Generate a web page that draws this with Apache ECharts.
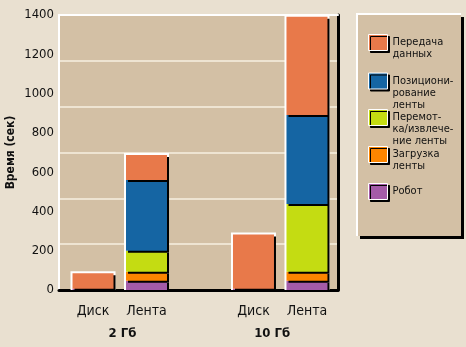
<!DOCTYPE html>
<html><head><meta charset="utf-8">
<script src="https://cdn.jsdelivr.net/npm/echarts@6/dist/echarts.min.js"></script>
<style>html,body{margin:0;padding:0;background:#e9e0d0;}#c{width:466px;height:347px;}</style>
</head><body><div id="c"></div>
<script>
// ---- data ----
const categories = ['Диск', 'Лента', 'Диск', 'Лента'];
const barPos = [0, 1, 3, 4];
const groups = ['2 Гб', '10 Гб'];
const groupPos = [0.55, 3.35];
const yTicks = [0, 200, 400, 600, 800, 1000, 1200, 1400];
const seriesNames = ['Робот', 'Загрузка ленты', 'Перемотка/извлечение ленты', 'Позиционирование ленты', 'Передача данных'];
const legendLabels = ['Робот', 'Загрузка\nленты', 'Перемот-\nка/извлече-\nние ленты', 'Позициони-\nрование\nленты', 'Передача\nданных'];
const robot = [6, 47, 6, 47];
const loading = [null, 46, null, 46];
const rewind = [null, 107, null, 345];
const positioning = [null, 360, null, 453];
const transfer = [79, 127, 277, 500];

const values = [robot, loading, rewind, positioning, transfer];
const colors = ['#a45ba8', '#fc8500', '#c4dc12', '#1565a3', '#e8794a'];
const FONT = "'Liberation Sans Narrow','Arial Narrow','DejaVu Sans Condensed',sans-serif";
const TAN = '#d3c0a5';
const XMIN = -0.636, XMAX = 4.58;

const totals = barPos.map((p, i) => values.reduce((s, arr) => s + (arr[i] || 0), 0));
const framePad = 10;

// data stored as [value, position] so that stacking happens on the value dimension
const series = [{
  name: 'frame', type: 'bar', xAxisIndex: 1, yAxisIndex: 0, barWidth: 45,
  encode: { x: 1, y: 0 },
  data: barPos.map((p, i) => [totals[i] + framePad, p]),
  itemStyle: { color: '#ffffff' }, silent: true, z: 2
}];
values.forEach((arr, k) => {
  series.push({
    name: seriesNames[k], type: 'bar', stack: 'total', xAxisIndex: 0, yAxisIndex: 0, barWidth: 41,
    encode: { x: 1, y: 0 },
    data: barPos.map((p, i) => [arr[i] == null ? null : arr[i], p]),
    itemStyle: { color: colors[k], shadowColor: '#000', shadowOffsetX: 2, shadowOffsetY: 2, shadowBlur: 0 },
    z: 3
  });
});

// legends: one per item (top to bottom order)
const legendOrder = [4, 3, 2, 1, 0];
const swatchCenters = [41.5, 80, 116.5, 153.5, 190];
const LH = 12;
const legends = legendOrder.map((k, j) => {
  const lines = legendLabels[k].split('\n');
  const n = lines.length;
  const txt = new Array(n - 1).fill(' ').concat(lines).join('\n');
  const h = Math.max(16, (2 * n - 1) * LH);
  return {
    data: [seriesNames[k]], left: 368, top: swatchCenters[j] - h / 2 + 1, orient: 'vertical',
    itemWidth: 19, itemHeight: 16, icon: 'rect', selectedMode: false, padding: 0, z: 10,
    itemStyle: { borderColor: '#fff', borderWidth: 1, shadowColor: '#000', shadowOffsetX: 2, shadowOffsetY: 2, shadowBlur: 0 },
    formatter: () => txt,
    textStyle: { fontFamily: FONT, fontSize: 11, lineHeight: LH, color: '#111' }
  };
});

const chart = echarts.init(document.getElementById('c'), null, { renderer: 'canvas' });
chart.setOption({
  animation: false,
  backgroundColor: '#e9e0d0',
  textStyle: { fontFamily: FONT },
  grid: { left: 59, right: 128, top: 15, bottom: 57, show: true, backgroundColor: TAN, borderWidth: 0,
    containLabel: false, outerBoundsMode: 'none' },
  graphic: [
    { type: 'rect', shape: { x: 357, y: 14, width: 104, height: 222 }, z: -1,
      style: { fill: TAN, shadowColor: '#000', shadowOffsetX: 3, shadowOffsetY: 3, shadowBlur: 0 } },
    { type: 'polyline', shape: { points: [[357, 236], [357, 14], [461, 14]] }, z: 0,
      style: { stroke: '#fff', lineWidth: 2, fill: null } }
  ],
  legend: legends,
  xAxis: [
    { type: 'value', min: XMIN, max: XMAX, position: 'bottom',
      axisLine: { show: true, onZero: false, lineStyle: { color: '#000', width: 3 } },
      axisTick: { show: false }, splitLine: { show: false },
      axisLabel: { customValues: barPos, formatter: v => categories[barPos.indexOf(v)] || '', margin: 14,
        fontFamily: FONT, fontSize: 14, color: '#111' } },
    { type: 'value', min: XMIN, max: XMAX, position: 'top',
      axisLine: { show: true, onZero: false, lineStyle: { color: '#fff', width: 2 } },
      axisTick: { show: false }, splitLine: { show: false }, axisLabel: { show: false } },
    { type: 'value', min: XMIN, max: XMAX, position: 'bottom',
      axisLine: { show: false, onZero: false }, axisTick: { show: false }, splitLine: { show: false },
      axisLabel: { customValues: groupPos, formatter: v => groups[groupPos.indexOf(v)] || '', margin: 37,
        fontFamily: FONT, fontSize: 13, fontWeight: 'bold', color: '#111' } }
  ],
  yAxis: [
    { type: 'value', min: yTicks[0], max: yTicks[yTicks.length - 1], interval: 200, position: 'left',
      name: 'Время (сек)', nameLocation: 'middle', nameGap: 42, nameRotate: 90, nameMoveOverlap: false,
      nameTextStyle: { fontFamily: FONT, fontSize: 12, fontWeight: 'bold', color: '#111' },
      axisLine: { show: true, onZero: false, lineStyle: { color: '#fff', width: 2 } },
      axisTick: { show: false }, splitLine: { show: false },
      axisLabel: { margin: 5, fontFamily: FONT, fontSize: 13, color: '#111', formatter: v => String(v) } },
    { type: 'value', min: 0, max: 6, interval: 1, position: 'right',
      axisLine: { show: true, onZero: false, lineStyle: { color: '#000', width: 3 } },
      axisTick: { show: false }, axisLabel: { show: false },
      splitLine: { show: true, lineStyle: { color: '#eee4d2', width: 2 } } }
  ],
  series: series
});
</script></body></html>
